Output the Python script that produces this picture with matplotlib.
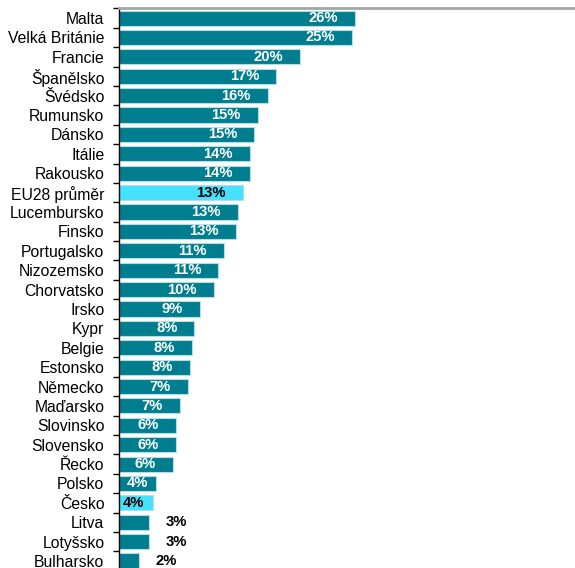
import matplotlib.pyplot as plt
import numpy as np

plt.rcParams['font.family'] = ['Liberation Sans', 'DejaVu Sans']

countries = ['Malta', 'Velká Británie', 'Francie', 'Španělsko', 'Švédsko', 'Rumunsko',
             'Dánsko', 'Itálie', 'Rakousko', 'EU28 průměr', 'Lucembursko', 'Finsko',
             'Portugalsko', 'Nizozemsko', 'Chorvatsko', 'Irsko', 'Kypr', 'Belgie',
             'Estonsko', 'Německo', 'Maďarsko', 'Slovinsko', 'Slovensko', 'Řecko',
             'Polsko', 'Česko', 'Litva', 'Lotyšsko', 'Bulharsko']
values = [25.7, 25.3, 19.7, 17.1, 16.2, 15.1, 14.7, 14.2, 14.2, 13.5, 12.9, 12.7,
          11.4, 10.8, 10.3, 8.8, 8.2, 7.9, 7.7, 7.5, 6.6, 6.2, 6.2, 5.9,
          4.0, 3.7, 3.3, 3.3, 2.2]
labels = ['26%', '25%', '20%', '17%', '16%', '15%', '15%', '14%', '14%', '13%', '13%', '13%',
          '11%', '11%', '10%', '9%', '8%', '8%', '8%', '7%', '7%', '6%', '6%', '6%',
          '4%', '4%', '3%', '3%', '2%']
highlight = ['EU28 průměr', 'Česko']

teal = '#007e8f'
cyan = '#45e2ff'

fig = plt.figure(figsize=(5.75, 5.68), dpi=100)
ax = fig.add_axes([119 / 575, -0.0048, 456 / 575, 0.990])

y = np.arange(len(countries))
colors = [cyan if c in highlight else teal for c in countries]
ax.barh(y, values, height=0.78, color=colors, edgecolor='#b5dde4', linewidth=0.8)

ax.set_ylim(len(countries) - 0.5, -0.5)
ax.set_xlim(0, 49.6)
px = 49.6 / 456  # data units per pixel

for i, (v, lab, c) in enumerate(zip(values, labels, countries)):
    hl = c in highlight
    if v < 3.5:
        ax.text(v + 16 * px, i, lab, ha='left', va='center', fontsize=10.6,
                fontweight='bold', color='black')
    elif v < 5:
        ax.text(4 * px if hl else 8 * px, i, lab, ha='left', va='center', fontsize=10.6,
                fontweight='bold', color='black' if hl else 'white')
    else:
        ax.text(v - 17 * px, i, lab, ha='right', va='center', fontsize=10.6,
                fontweight='bold', color='black' if hl else 'white')

ax.set_yticks(y)
ax.set_yticklabels(countries, fontsize=11.3)
ax.set_yticks(np.arange(len(countries) + 1) - 0.5, minor=True)
ax.tick_params(axis='y', which='major', length=0, pad=10.5)
ax.tick_params(axis='y', which='minor', length=4, width=1, color='black')
ax.set_xticks([])

ax.spines['right'].set_visible(False)
ax.spines['bottom'].set_visible(False)
ax.spines['top'].set_color('#a6a6a6')
ax.spines['top'].set_linewidth(2)
ax.spines['left'].set_color('black')
ax.spines['left'].set_linewidth(1)

fig.savefig('out.png', dpi=100)
